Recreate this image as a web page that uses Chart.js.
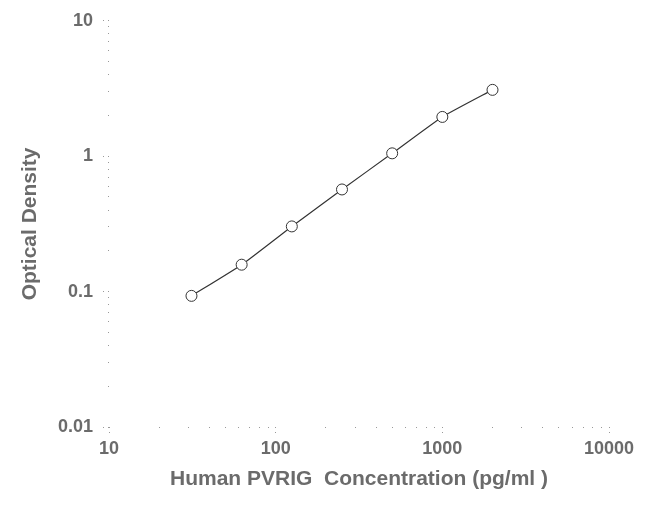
<!DOCTYPE html>
<html>
<head>
<meta charset="utf-8">
<script src="https://cdn.jsdelivr.net/npm/chart.js@4/dist/chart.umd.min.js"></script>
<style>
  html, body { margin: 0; padding: 0; background: #fff; }
  #wrap { width: 650px; height: 505px; position: relative; }
</style>
</head>
<body>
<div id="wrap"><canvas id="stdCurve"></canvas></div>
<script>
// standard curve
const concentrations = [31.25, 62.5, 125, 250, 500, 1000, 2000];
const densities = [0.093, 0.158, 0.303, 0.568, 1.05, 1.95, 3.09];

// decade ticks, with minor steps between them
const xMajorTicks = [10, 100, 1000, 10000];
const yMajorTicks = [0.01, 0.1, 1, 10];
const minorSteps = [2, 3, 4, 5, 6, 7, 8, 9];

const textColor = '#6b6b6b';
const dotColor = '#999';

function logTicks(majors) {
  const out = [];
  majors.forEach((m, i) => {
    out.push({ value: m, major: true });
    if (i < majors.length - 1) {
      minorSteps.forEach((s) => out.push({ value: +(m * s).toPrecision(3), major: false }));
    }
  });
  return out;
}

function labelFor(majors) {
  return (value) => (majors.includes(value) ? String(value) : '');
}

function dottedTicks(position) {
  return {
    display: true,
    drawOnChartArea: false,
    drawTicks: true,
    tickLength: 6,
    tickWidth: 1,
    tickColor: dotColor,
    // only the end points of each tick show, like the dotted original
    tickBorderDash: (ctx) => {
      const major = ctx.tick && ctx.tick.major;
      if (major) return [1, 4, 1, 100];
      return position === 'left' ? [0, 5, 1, 100] : [1, 100];
    }
  };
}

new Chart(document.getElementById('stdCurve'), {
  type: 'line',
  data: {
    datasets: [
      {
        data: concentrations.map((c, i) => ({ x: c, y: densities[i] })),
        borderColor: '#333',
        borderWidth: 1.2,
        tension: 0.15,
        pointRadius: 5.5,
        pointBorderWidth: 1,
        pointBackgroundColor: '#fff',
        pointBorderColor: '#333',
        fill: false
      }
    ]
  },
  options: {
    responsive: true,
    maintainAspectRatio: false,
    animation: false,
    layout: { padding: { left: 0, right: 41, top: 17, bottom: 0 } },
    plugins: {
      legend: { display: false },
      tooltip: { enabled: false }
    },
    scales: {
      x: {
        type: 'logarithmic',
        position: 'bottom',
        min: 10,
        max: 10000,
        border: { display: false },
        grid: dottedTicks('bottom'),
        afterBuildTicks: (axis) => { axis.ticks = logTicks(xMajorTicks); },
        afterFit: (axis) => { axis.height = 78; },
        ticks: {
          autoSkip: false,
          maxRotation: 0,
          minRotation: 0,
          padding: 5,
          color: textColor,
          font: { family: 'Liberation Sans, Arial, sans-serif', size: 18, weight: 'bold' },
          callback: labelFor(xMajorTicks)
        },
        title: {
          display: true,
          text: 'Human PVRIG  Concentration (pg/ml )',
          color: textColor,
          padding: { top: 0, bottom: 13 },
          font: { family: 'Liberation Sans, Arial, sans-serif', size: 21, weight: 'bold' }
        }
      },
      y: {
        type: 'logarithmic',
        position: 'left',
        min: 0.01,
        max: 10,
        border: { display: false },
        grid: dottedTicks('left'),
        afterBuildTicks: (axis) => { axis.ticks = logTicks(yMajorTicks); },
        afterFit: (axis) => { axis.width = 109; },
        ticks: {
          autoSkip: false,
          padding: 10,
          color: textColor,
          font: { family: 'Liberation Sans, Arial, sans-serif', size: 18, weight: 'bold' },
          callback: labelFor(yMajorTicks)
        },
        title: {
          display: true,
          text: 'Optical Density',
          color: textColor,
          padding: { top: 18, bottom: 0 },
          font: { family: 'Liberation Sans, Arial, sans-serif', size: 21, weight: 'bold' }
        }
      }
    }
  }
});
</script>
</body>
</html>
